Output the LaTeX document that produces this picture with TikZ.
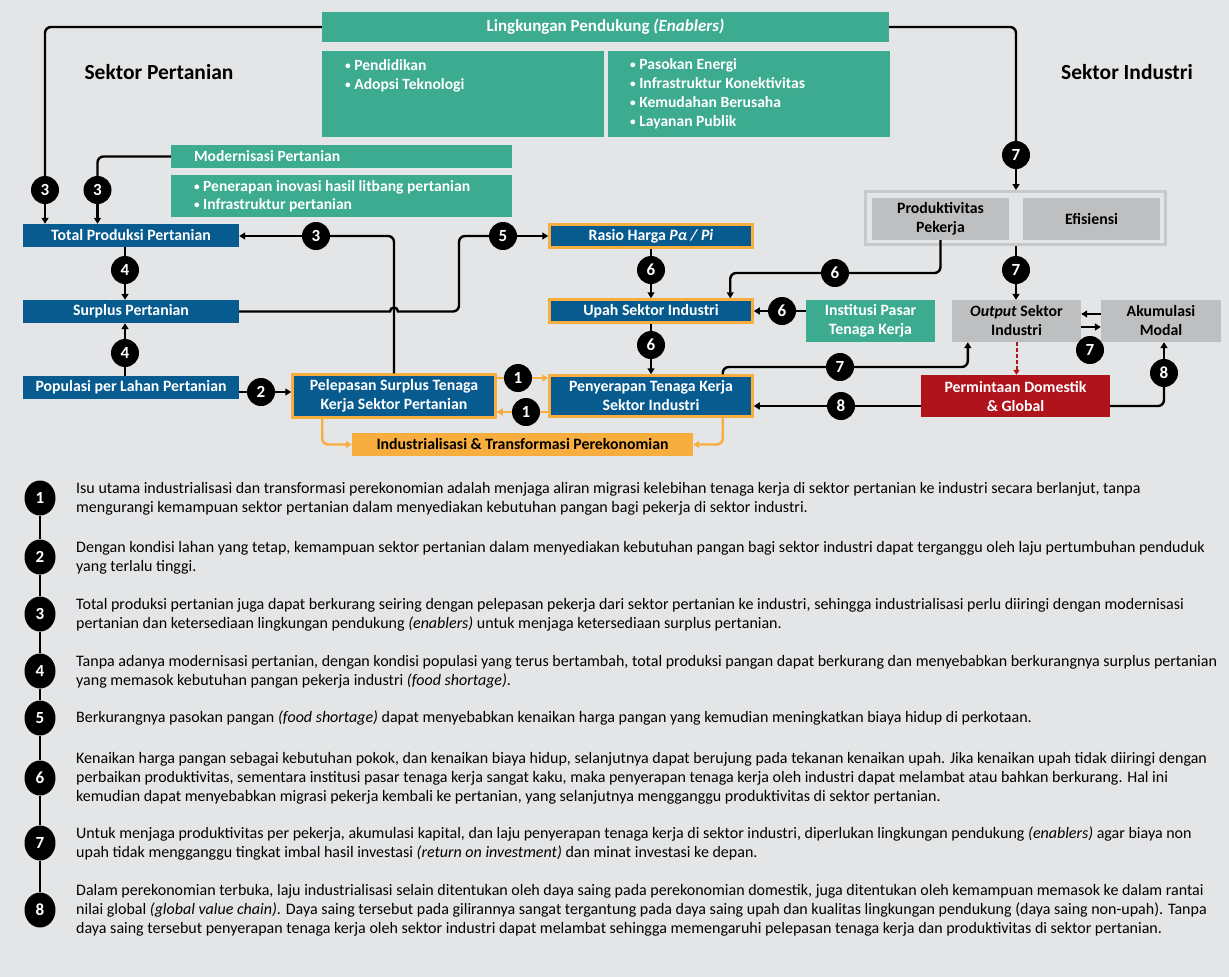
\documentclass[tikz,border=0pt]{standalone}
\usepackage{fontspec}
\usepackage{graphicx}
\setmainfont{Carlito}
\usetikzlibrary{arrows.meta,calc,shapes.geometric}
\definecolor{bgc}{HTML}{E4E5E6}
\definecolor{blu}{HTML}{075B8F}
\definecolor{tealc}{HTML}{3CAB8F}
\definecolor{orng}{HTML}{F8AE3F}
\definecolor{redc}{HTML}{B0131B}
\definecolor{grayb}{HTML}{BEBFC1}
\definecolor{grayo}{HTML}{C8C9CB}
\newcommand{\myfs}[2]{\fontsize{#1}{#2}\selectfont}
\newcommand{\mybul}{\raisebox{0.12ex}{\scalebox{0.72}{\textbullet}}\ }
\begin{document}
\begin{tikzpicture}[x=1pt,y=-1pt,
  box/.style={inner sep=0pt, align=center, font=\bfseries\myfs{15.8}{19}},
  bluebox/.style={box, fill=blu, text=white},
  obox/.style={bluebox, draw=orng, line width=2.5pt},
  tealbox/.style={box, fill=tealc, text=white},
  graybox/.style={box, fill=grayb, text=black},
  listtext/.style={anchor=west, align=flush left, inner sep=0pt, text=white, font=\bfseries\myfs{15.6}{19}},
  num/.style={circle, fill=black, text=white, inner sep=0pt, minimum size=28pt, font=\bfseries\myfs{17}{17}},
  lnum/.style={ellipse, fill=black, text=white, inner sep=0pt, minimum width=31pt, minimum height=35pt, font=\bfseries\myfs{17}{17}},
  conn/.style={line width=2.4pt, black},
  arr/.style={conn, -{Triangle[length=6pt,width=7pt]}},
  oline/.style={line width=2.4pt, orng},
  oarr/.style={oline, -{Triangle[length=6pt,width=7pt]}},
  darr/.style={line width=2pt, redc, dash pattern=on 3.5pt off 2.5pt, -{Triangle[length=5pt,width=6pt]}},
  rc/.style={rounded corners=6pt},
  desc/.style={anchor=west, align=flush left, inner sep=0pt, font=\myfs{16}{19}},
  sektor/.style={font=\bfseries\myfs{21.5}{24}},
]
\fill[bgc] (0,0) rectangle (1229,977);

% ---------- Enablers ----------
\node[tealbox, minimum width=567pt, minimum height=30pt, font=\bfseries\myfs{17}{19}] (env) at (605.5,27) {Lingkungan Pendukung \textit{(Enablers)}};
\node[tealbox, minimum width=282pt, minimum height=86pt] (envl) at (463,94) {};
\node[tealbox, minimum width=282pt, minimum height=86pt] (envr) at (749,94) {};
\node[listtext] (envlt) at (345,75.5) {\mybul Pendidikan\\\mybul Adopsi Teknologi};
\node[listtext] (envrt) at (630,94) {\mybul Pasokan Energi\\\mybul Infrastruktur Konektivitas\\\mybul Kemudahan Berusaha\\\mybul Layanan Publik};

\node[sektor] (lblp) at (159,72) {Sektor Pertanian};
\node[sektor] (lbli) at (1127,72) {Sektor Industri};

% ---------- Modernisasi ----------
\node[tealbox, minimum width=341pt, minimum height=23pt, text width=295pt, align=flush left, font=\bfseries\myfs{15.6}{19}] (mod) at (341.5,156.5) {Modernisasi Pertanian};
\node[tealbox, minimum width=341pt, minimum height=42pt, text width=295pt, align=flush left, font=\bfseries\myfs{15.6}{18}] (modb) at (341.5,196) {\mybul Penerapan inovasi hasil litbang pertanian\\\mybul Infrastruktur pertanian};

% ---------- Agriculture ----------
\node[bluebox, minimum width=216pt, minimum height=23pt] (tpp) at (131,235.5) {Total Produksi Pertanian};
\node[bluebox, minimum width=216pt, minimum height=23pt] (sp) at (131,311.5) {Surplus Pertanian};
\node[bluebox, minimum width=216pt, minimum height=23pt] (pop) at (131,387.5) {Populasi per Lahan Pertanian};
\node[obox, minimum width=203pt, minimum height=43pt] (pel) at (394,396) {Pelepasan Surplus Tenaga\\Kerja Sektor Pertanian};

% ---------- Industry ----------
\node[obox, minimum width=203pt, minimum height=23pt] (ras) at (651,236) {Rasio Harga \textit{Pα / Pi}};
\node[obox, minimum width=203pt, minimum height=23pt] (upah) at (651,311) {Upah Sektor Industri};
\node[obox, minimum width=203pt, minimum height=41pt] (peny) at (651,396) {Penyerapan Tenaga Kerja\\Sektor Industri};
\node[box, fill=orng, text=black, minimum width=341pt, minimum height=23pt] (ind) at (522.5,444.5) {Industrialisasi \& Transformasi Perekonomian};

\node[draw=grayo, line width=3pt, fill=bgc, minimum width=300pt, minimum height=53pt, inner sep=0pt] (outer) at (1015.5,218) {};
\node[graybox, minimum width=137pt, minimum height=42pt] (prod) at (940.5,219) {Produktivitas\\Pekerja};
\node[graybox, minimum width=137pt, minimum height=42pt] (efi) at (1091.5,219) {Efisiensi};
\node[tealbox, minimum width=129pt, minimum height=42pt] (inst) at (870.5,321) {Institusi Pasar\\Tenaga Kerja};
\node[graybox, minimum width=129pt, minimum height=42pt] (out) at (1016.5,321) {\textit{Output} Sektor\\Industri};
\node[graybox, minimum width=120pt, minimum height=42pt] (aku) at (1161,321) {Akumulasi\\Modal};
\node[box, fill=redc, text=white, minimum width=189pt, minimum height=42pt] (perm) at (1015.5,396) {Permintaan Domestik\\\& Global};

% ---------- number circles ----------
\node[num] (c3a) at (45,190) {3};
\node[num] (c3b) at (97.5,190) {3};
\node[num] (c3c) at (316,236) {3};
\node[num] (c4a) at (125,270) {4};
\node[num] (c4b) at (125,353) {4};
\node[num] (c2) at (261,392) {2};
\node[num] (c5) at (503,236) {5};
\node[num] (c6a) at (651,270) {6};
\node[num] (c6b) at (651,345) {6};
\node[num] (c6c) at (835,273) {6};
\node[num] (c6d) at (782,311) {6};
\node[num] (c7a) at (1016,155) {7};
\node[num] (c7b) at (1016,270) {7};
\node[num] (c7c) at (1090,350) {7};
\node[num] (c7d) at (840,367) {7};
\node[num] (c8a) at (841,406) {8};
\node[num] (c8b) at (1164,373) {8};
\node[num] (c1a) at (518,378) {1};
\node[num] (c1b) at (526,412) {1};

% ---------- connectors ----------
\draw[conn, rc] (env.west) -| (c3a);
\draw[arr] (c3a) -- (c3a |- tpp.north);
\draw[conn, rc] (mod.west) -| (c3b);
\draw[arr] (c3b) -- (c3b |- tpp.north);
\draw[conn] (c4a |- tpp.south) -- (c4a);
\draw[arr] (c4a) -- (c4a |- sp.north);
\draw[conn] (c4b |- pop.north) -- (c4b);
\draw[arr] (c4b) -- (c4b |- sp.south);
\draw[conn] (c2 -| pop.east) -- (c2);
\draw[arr] (c2) -- (c2 -| pel.west);
\draw[conn, rc] (pel.north) |- (c3c);
\draw[arr] (c3c) -- (c3c -| tpp.east);
\coordinate (hopa) at (390,311.5);
\coordinate (hopb) at (398,311.5);
\coordinate (bend5) at (459,311.5);
\draw[conn] (sp.east) -- (hopa) arc[start angle=180, end angle=0, radius=4pt] -- (hopb) [rounded corners=6pt] -- (bend5) |- (c5);
\draw[arr] (c5) -- (c5 -| ras.west);
\draw[conn] (ras) -- (c6a);
\draw[arr] (c6a) -- (upah);
\draw[conn] (upah) -- (c6b);
\draw[arr] (c6b) -- (peny);
\coordinate (upin) at ($(upah.north west)+(182,0)$);
\draw[conn, rc] (prod.south) |- (c6c);
\draw[arr, rc] (c6c) -| (upin);
\draw[conn] (c6d -| inst.west) -- (c6d);
\draw[arr] (c6d) -- (c6d -| upah.east);
\draw[conn, rc] (env.east) -| (c7a);
\draw[arr] (c7a) -- (c7a |- outer.north);
\draw[conn] (c7b |- outer.south) -- (c7b);
\draw[arr] (c7b) -- (c7b |- out.north);
\draw[arr] ($(aku.west)+(0,-7)$) -- ($(out.east)+(0,-7)$);
\draw[arr] ($(out.east)+(0,6)$) -- ($(aku.west)+(0,6)$);
\draw[darr] (out.south) -- (out.south |- perm.north);
\draw[conn] ($(perm.west)+(0,10)$) -- (c8a);
\draw[arr] (c8a) -- (c8a -| peny.east);
\draw[conn, rc] ($(perm.east)+(0,10)$) -| (c8b);
\draw[arr] (c8b) -- (c8b |- aku.south);
\coordinate (pnyout) at ($(peny.north east)+(-31,0)$);
\coordinate (outin) at ($(out.south west)+(16,0)$);
\draw[conn, rc] (pnyout) |- (c7d);
\draw[arr, rc] (c7d) -| (outin);
\draw[oline] (c1a -| pel.east) -- (c1a);
\draw[oarr] (c1a) -- (c1a -| peny.west);
\draw[oline] (c1b -| peny.west) -- (c1b);
\draw[oarr] (c1b) -- (c1b -| pel.east);
\coordinate (pelout) at ($(pel.south west)+(31,0)$);
\coordinate (pnyout2) at ($(peny.south east)+(-31,0)$);
\draw[oarr, rc] (pelout) |- (ind.west);
\draw[oarr, rc] (pnyout2) |- (ind.east);

% ---------- legend ----------
\foreach \i/\y in {1/498,2/557,3/614,4/671,5/718,6/778,7/843,8/910}
  \node[lnum] (l\i) at (40,\y) {\i};
\foreach \a/\b in {1/2,2/3,3/4,4/5,5/6,6/7,7/8}
  \draw[conn] (l\a) -- (l\b);

\node[desc] (d1) at (76,498.5) {Isu utama industrialisasi dan transformasi perekonomian adalah menjaga aliran migrasi kelebihan tenaga kerja di sektor pertanian ke industri secara berlanjut, tanpa\\mengurangi kemampuan sektor pertanian dalam menyediakan kebutuhan pangan bagi pekerja di sektor industri.};
\node[desc] (d2) at (76,557.5) {Dengan kondisi lahan yang tetap, kemampuan sektor pertanian dalam menyediakan kebutuhan pangan bagi sektor industri dapat terganggu oleh laju pertumbuhan penduduk\\yang terlalu tinggi.};
\node[desc] (d3) at (76,614.5) {Total produksi pertanian juga dapat berkurang seiring dengan pelepasan pekerja dari sektor pertanian ke industri, sehingga industrialisasi perlu diiringi dengan modernisasi\\pertanian dan ketersediaan lingkungan pendukung \textit{(enablers)} untuk menjaga ketersediaan surplus pertanian.};
\node[desc] (d4) at (76,671.5) {Tanpa adanya modernisasi pertanian, dengan kondisi populasi yang terus bertambah, total produksi pangan dapat berkurang dan menyebabkan berkurangnya surplus pertanian\\yang memasok kebutuhan pangan pekerja industri \textit{(food shortage)}.};
\node[desc] (d5) at (76,718) {Berkurangnya pasokan pangan \textit{(food shortage)} dapat menyebabkan kenaikan harga pangan yang kemudian meningkatkan biaya hidup di perkotaan.};
\node[desc] (d6) at (76,778) {Kenaikan harga pangan sebagai kebutuhan pokok, dan kenaikan biaya hidup, selanjutnya dapat berujung pada tekanan kenaikan upah. Jika kenaikan upah tidak diiringi dengan\\perbaikan produktivitas, sementara institusi pasar tenaga kerja sangat kaku, maka penyerapan tenaga kerja oleh industri dapat melambat atau bahkan berkurang. Hal ini\\kemudian dapat menyebabkan migrasi pekerja kembali ke pertanian, yang selanjutnya mengganggu produktivitas di sektor pertanian.};
\node[desc] (d7) at (76,843.5) {Untuk menjaga produktivitas per pekerja, akumulasi kapital, dan laju penyerapan tenaga kerja di sektor industri, diperlukan lingkungan pendukung \textit{(enablers)} agar biaya non\\upah tidak mengganggu tingkat imbal hasil investasi \textit{(return on investment)} dan minat investasi ke depan.};
\node[desc] (d8) at (76,910) {Dalam perekonomian terbuka, laju industrialisasi selain ditentukan oleh daya saing pada perekonomian domestik, juga ditentukan oleh kemampuan memasok ke dalam rantai\\nilai global \textit{(global value chain)}. Daya saing tersebut pada gilirannya sangat tergantung pada daya saing upah dan kualitas lingkungan pendukung (daya saing non-upah). Tanpa\\daya saing tersebut penyerapan tenaga kerja oleh sektor industri dapat melambat sehingga memengaruhi pelepasan tenaga kerja dan produktivitas di sektor pertanian.};
\end{tikzpicture}
\end{document}
